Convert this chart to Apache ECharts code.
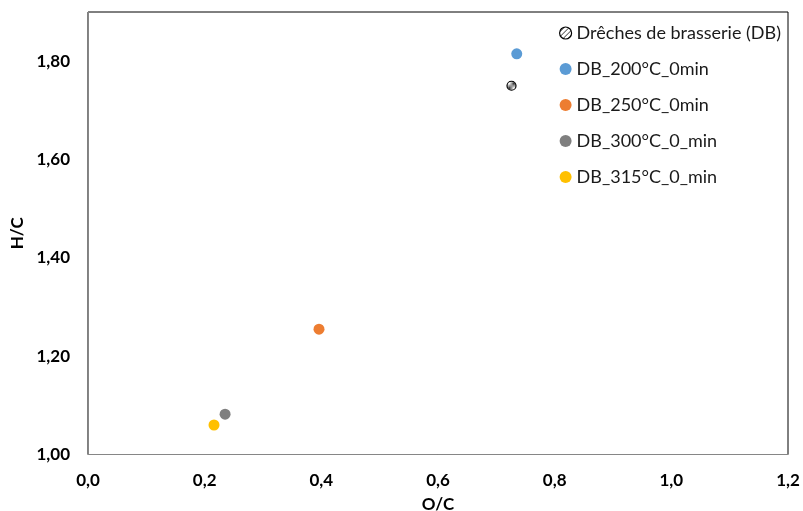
<!DOCTYPE html>
<html>
<head>
<meta charset="utf-8">
<script src="https://cdn.jsdelivr.net/npm/echarts@6/dist/echarts.min.js"></script>
<style>html,body{margin:0;padding:0;background:#fff}#c{width:803px;height:511px}</style>
</head>
<body>
<div id="c"></div>
<script>
const seriesNames = ['Drêches de brasserie (DB)', 'DB_200°C_0min', 'DB_250°C_0min', 'DB_300°C_0_min', 'DB_315°C_0_min'];
const oc = [0.726, 0.735, 0.396, 0.235, 0.216];
const hc = [1.750, 1.815, 1.255, 1.082, 1.060];
const colors = ['#ffffff', '#5B9BD5', '#ED7D31', '#7F7F7F', '#FFC000'];

const pc = document.createElement('canvas');
pc.width = 5; pc.height = 5;
const g = pc.getContext('2d');
g.fillStyle = '#fff'; g.fillRect(0,0,5,5);
g.strokeStyle = '#333'; g.lineWidth = 1;
g.beginPath(); g.moveTo(0,5); g.lineTo(5,0); g.stroke();

const chart = echarts.init(document.getElementById('c'));
const fontFam = 'Lato, "Open Sans", sans-serif';
const series = seriesNames.map((n, i) => ({
  name: n,
  type: 'scatter',
  symbol: 'circle',
  symbolSize: i === 0 ? 9 : 11,
  itemStyle: i === 0 ? {color: {image: pc, repeat: 'repeat'}, borderColor: '#000', borderWidth: 1.2, opacity: 1} : {color: colors[i], opacity: 1},
  data: [[oc[i], hc[i]]]
}));
chart.setOption({
  animation: false,
  grid: {left: 88, right: 15, top: 12, bottom: 56.5, show: true, borderColor: '#000', borderWidth: 1, outerBoundsMode: 'none', containLabel: false},
  legend: {
    orient: 'vertical', left: 554, top: 18, itemGap: 16,
    itemWidth: 12, itemHeight: 12, icon: 'circle',
    textStyle: {fontFamily: fontFam, fontSize: 18, color: '#1a1a1a', lineHeight: 20},
    data: seriesNames.map((n,i) => i === 0 ? {name: n, itemStyle: {color: {image: pc, repeat: 'repeat'}, borderColor: '#000', borderWidth: 1.2, opacity: 1}} : {name: n, itemStyle: {opacity: 1}})
  },
  xAxis: {
    type: 'value', min: 0, max: 1.2, interval: 0.2,
    name: 'O/C', nameLocation: 'middle', nameGap: 42,
    nameTextStyle: {fontFamily: fontFam, fontSize: 17, fontWeight: 'bold', color: '#000'},
    axisLine: {show: true, lineStyle: {color: '#868686', width: 1}},
    axisTick: {show: false}, splitLine: {show: false},
    axisLabel: {margin: 18, fontFamily: fontFam, fontSize: 17, fontWeight: 'bold', color: '#000',
      formatter: v => v.toFixed(1).replace('.', ',')}
  },
  yAxis: {
    type: 'value', min: 1.0, max: 1.9, interval: 0.2,
    name: 'H/C', nameLocation: 'middle', nameGap: 60,
    nameTextStyle: {fontFamily: fontFam, fontSize: 17, fontWeight: 'bold', color: '#000'},
    axisLine: {show: true, lineStyle: {color: '#868686', width: 1}},
    axisTick: {show: false}, splitLine: {show: false},
    axisLabel: {margin: 18, showMaxLabel: false, fontFamily: fontFam, fontSize: 17, fontWeight: 'bold', color: '#000',
      formatter: v => v.toFixed(2).replace('.', ',')}
  },
  series: series
});
</script>
</body>
</html>
